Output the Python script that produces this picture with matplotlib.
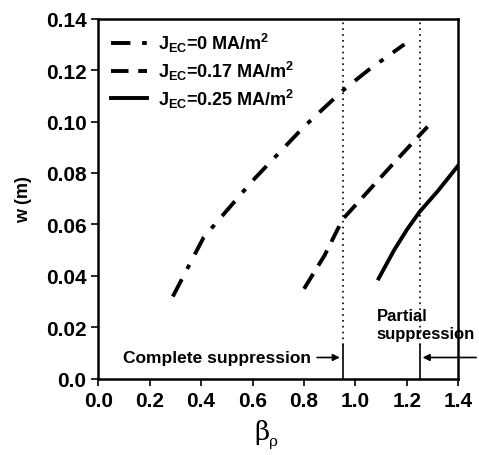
import numpy as np
import matplotlib
matplotlib.use("Agg")
import matplotlib.pyplot as plt

# values
beta_0 = [0.29, 0.41, 0.60, 0.80, 0.95, 1.05, 1.19]
w_0 = [0.032, 0.055, 0.077, 0.098, 0.112, 0.120, 0.130]

beta_17 = [0.80, 0.88, 0.95, 1.05, 1.15, 1.28]
w_17 = [0.035, 0.048, 0.062, 0.073, 0.084, 0.098]

beta_25 = [1.09, 1.15, 1.20, 1.25, 1.32, 1.40]
w_25 = [0.039, 0.050, 0.058, 0.065, 0.073, 0.083]

labels = [r"J$_{\mathrm{EC}}$=0 MA/m$^{2}$",
          r"J$_{\mathrm{EC}}$=0.17 MA/m$^{2}$",
          r"J$_{\mathrm{EC}}$=0.25 MA/m$^{2}$"]

complete_edge = 0.95
partial_edge = 1.25

fam = "Liberation Sans"
plt.rcParams["font.family"] = [fam, "DejaVu Sans"]
plt.rcParams["font.weight"] = "bold"
plt.rcParams["mathtext.fontset"] = "custom"
plt.rcParams["mathtext.rm"] = fam + ":bold"
plt.rcParams["mathtext.it"] = fam + ":bold"

fig = plt.figure(figsize=(4.79, 4.56), dpi=100)
ax = fig.add_axes([0.205, 0.167, 0.752, 0.790])

ax.plot(beta_0, w_0, color="black", lw=2.8, dashes=(5, 3, 1.2, 3), label=labels[0])
ax.plot(beta_17, w_17, color="black", lw=2.8, dashes=(4.5, 2.5), label=labels[1])
ax.plot(beta_25, w_25, color="black", lw=2.8, label=labels[2])

# suppression boundaries
for xb in [complete_edge, partial_edge]:
    ax.plot([xb, xb], [0.013, 0.14], color="black", lw=1.2, ls=(0, (1, 2.5)))
    ax.plot([xb, xb], [0, 0.013], color="black", lw=1.2)

ax.annotate("", xy=(complete_edge, 0.0083), xytext=(0.84, 0.0083),
            arrowprops=dict(arrowstyle="-|>", color="black", lw=1.2))
ax.text(0.095, 0.0083, "Complete suppression", fontsize=12.5, va="center", ha="left")

ax.annotate("", xy=(partial_edge, 0.0083), xytext=(1.48, 0.0083),
            arrowprops=dict(arrowstyle="-|>", color="black", lw=1.2),
            annotation_clip=False)
ax.text(1.082, 0.021, "Partial\nsuppression", fontsize=12, va="center", ha="left",
        linespacing=1.25, clip_on=False)

ax.set_xlim(0, 1.4)
ax.set_ylim(0, 0.14)
ax.set_xticks(np.arange(0, 1.41, 0.2))
ax.set_yticks(np.arange(0, 0.141, 0.02))
ax.set_xticklabels([f"{v:.1f}" for v in np.arange(0, 1.41, 0.2)])
ax.set_yticklabels(["0.0"] + [f"{v:.2f}" for v in np.arange(0.02, 0.141, 0.02)])
ax.tick_params(direction="out", length=5, width=1.2, labelsize=15)
for s in ax.spines.values():
    s.set_linewidth(1.8)

ax.set_ylabel("w (m)", fontsize=13, fontweight="bold", labelpad=10)

# x label: serif beta with small subscript
fig.text(0.548, 0.035, "β", fontsize=19, family="DejaVu Serif", fontweight="normal",
         ha="center", va="baseline")
fig.text(0.571, 0.022, "ρ", fontsize=11, family="DejaVu Serif", fontweight="normal",
         ha="center", va="baseline")

ax.legend(loc="upper left", frameon=False, fontsize=13, handlelength=2.0,
          handletextpad=0.6, labelspacing=0.25, borderaxespad=0.3)

fig.savefig("out.png", dpi=100)
